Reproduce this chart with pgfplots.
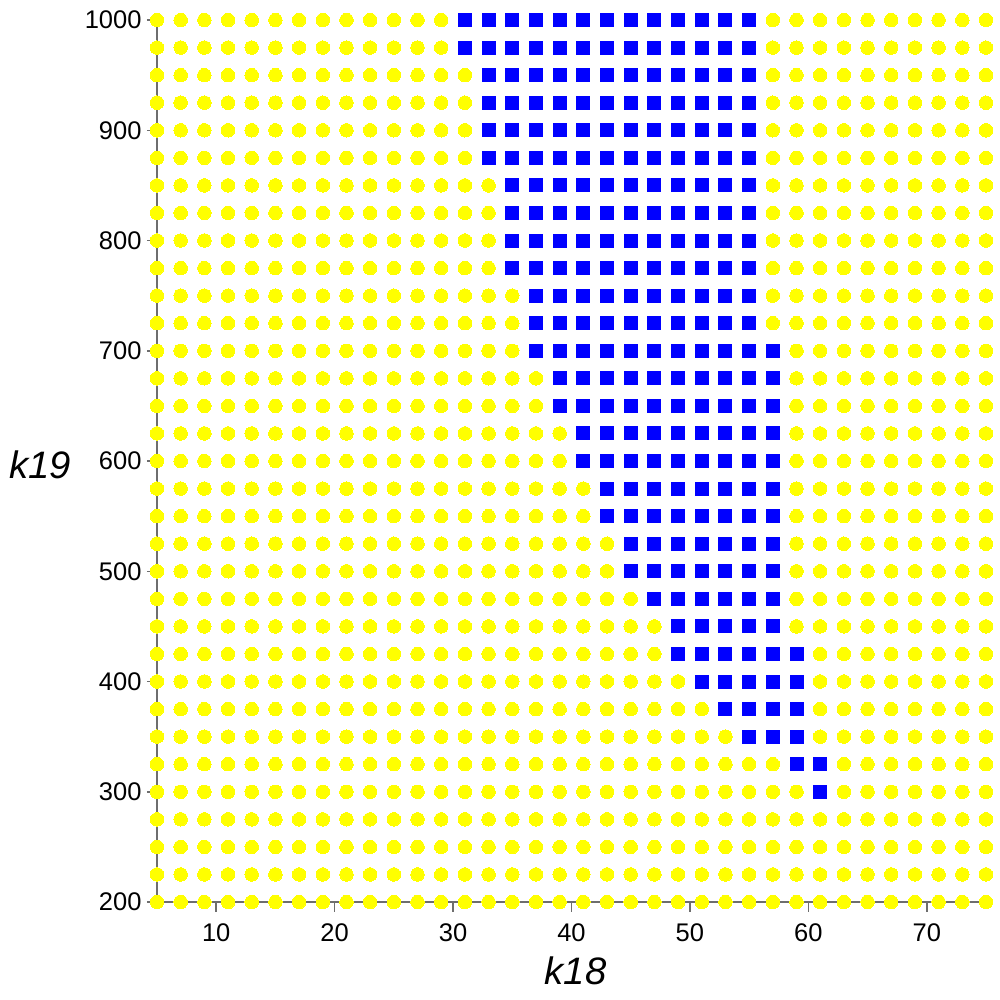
\documentclass[border=0pt]{standalone}
\usepackage{pgfplots}
\pgfplotsset{compat=1.18}
\usepackage{fontspec}
\setmainfont{Liberation Sans}
\definecolor{axgray}{RGB}{110,110,110}
\definecolor{ptyellow}{RGB}{255,255,0}
\definecolor{ptblue}{RGB}{0,0,255}
\begin{document}
\begin{tikzpicture}
\begin{axis}[
  scale only axis,
  width=331.6pt, height=352.8pt,
  xmin=5, xmax=75, ymin=200, ymax=1000,
  axis x line=bottom, axis y line=left,
  axis line style={axgray, line width=0.8pt, -},
  clip=false,
  axis on top,
  xtick={10,20,30,40,50,60,70},
  minor xtick={5,15,25,35,45,55,65,75},
  ytick={200,300,400,500,600,700,800,900,1000},
  minor ytick={250,350,450,550,650,750,850,950},
  tick align=outside,
  major tick length=4pt, minor tick length=2pt,
  every tick/.style={axgray, line width=0.6pt},
  /pgf/number format/assume math mode=true,
  /pgf/number format/set thousands separator={},
  tick label style={font=\fontsize{10.2}{12}\selectfont, black},
  xticklabel style={anchor=base, inner sep=0pt, yshift=-12pt},
  yticklabel style={anchor=east, inner sep=0pt, xshift=-2pt},
  every axis x label/.style={at={(axis description cs:0.505,0)}, anchor=base, inner sep=0pt, yshift=-33.2pt, font=\fontsize{15.3}{18}\selectfont},
  every axis y label/.style={at={(axis description cs:0,0.4807)}, anchor=base west, inner sep=0pt, xshift=-59.2pt, font=\fontsize{15.3}{18}\selectfont},
  xlabel={\textit{k18}}, ylabel={\textit{k19}},
]
% yellow circles (outside region)
\addplot[only marks, color=ptyellow, mark=*, mark size=2.7pt, mark options={fill=ptyellow, draw=ptyellow, line width=0pt}] coordinates {
(5,200)(7,200)(9,200)(11,200)(13,200)(15,200)(17,200)(19,200)(21,200)(23,200)(25,200)(27,200)(29,200)(31,200)(33,200)(35,200)(37,200)(39,200)(41,200)(43,200)(45,200)(47,200)(49,200)(51,200)(53,200)(55,200)(57,200)(59,200)(61,200)(63,200)(65,200)(67,200)(69,200)(71,200)(73,200)(75,200)
(5,225)(7,225)(9,225)(11,225)(13,225)(15,225)(17,225)(19,225)(21,225)(23,225)(25,225)(27,225)(29,225)(31,225)(33,225)(35,225)(37,225)(39,225)(41,225)(43,225)(45,225)(47,225)(49,225)(51,225)(53,225)(55,225)(57,225)(59,225)(61,225)(63,225)(65,225)(67,225)(69,225)(71,225)(73,225)(75,225)
(5,250)(7,250)(9,250)(11,250)(13,250)(15,250)(17,250)(19,250)(21,250)(23,250)(25,250)(27,250)(29,250)(31,250)(33,250)(35,250)(37,250)(39,250)(41,250)(43,250)(45,250)(47,250)(49,250)(51,250)(53,250)(55,250)(57,250)(59,250)(61,250)(63,250)(65,250)(67,250)(69,250)(71,250)(73,250)(75,250)
(5,275)(7,275)(9,275)(11,275)(13,275)(15,275)(17,275)(19,275)(21,275)(23,275)(25,275)(27,275)(29,275)(31,275)(33,275)(35,275)(37,275)(39,275)(41,275)(43,275)(45,275)(47,275)(49,275)(51,275)(53,275)(55,275)(57,275)(59,275)(61,275)(63,275)(65,275)(67,275)(69,275)(71,275)(73,275)(75,275)
(5,300)(7,300)(9,300)(11,300)(13,300)(15,300)(17,300)(19,300)(21,300)(23,300)(25,300)(27,300)(29,300)(31,300)(33,300)(35,300)(37,300)(39,300)(41,300)(43,300)(45,300)(47,300)(49,300)(51,300)(53,300)(55,300)(57,300)(59,300)(63,300)(65,300)(67,300)(69,300)(71,300)(73,300)(75,300)
(5,325)(7,325)(9,325)(11,325)(13,325)(15,325)(17,325)(19,325)(21,325)(23,325)(25,325)(27,325)(29,325)(31,325)(33,325)(35,325)(37,325)(39,325)(41,325)(43,325)(45,325)(47,325)(49,325)(51,325)(53,325)(55,325)(57,325)(63,325)(65,325)(67,325)(69,325)(71,325)(73,325)(75,325)
(5,350)(7,350)(9,350)(11,350)(13,350)(15,350)(17,350)(19,350)(21,350)(23,350)(25,350)(27,350)(29,350)(31,350)(33,350)(35,350)(37,350)(39,350)(41,350)(43,350)(45,350)(47,350)(49,350)(51,350)(53,350)(61,350)(63,350)(65,350)(67,350)(69,350)(71,350)(73,350)(75,350)
(5,375)(7,375)(9,375)(11,375)(13,375)(15,375)(17,375)(19,375)(21,375)(23,375)(25,375)(27,375)(29,375)(31,375)(33,375)(35,375)(37,375)(39,375)(41,375)(43,375)(45,375)(47,375)(49,375)(51,375)(61,375)(63,375)(65,375)(67,375)(69,375)(71,375)(73,375)(75,375)
(5,400)(7,400)(9,400)(11,400)(13,400)(15,400)(17,400)(19,400)(21,400)(23,400)(25,400)(27,400)(29,400)(31,400)(33,400)(35,400)(37,400)(39,400)(41,400)(43,400)(45,400)(47,400)(49,400)(61,400)(63,400)(65,400)(67,400)(69,400)(71,400)(73,400)(75,400)
(5,425)(7,425)(9,425)(11,425)(13,425)(15,425)(17,425)(19,425)(21,425)(23,425)(25,425)(27,425)(29,425)(31,425)(33,425)(35,425)(37,425)(39,425)(41,425)(43,425)(45,425)(47,425)(61,425)(63,425)(65,425)(67,425)(69,425)(71,425)(73,425)(75,425)
(5,450)(7,450)(9,450)(11,450)(13,450)(15,450)(17,450)(19,450)(21,450)(23,450)(25,450)(27,450)(29,450)(31,450)(33,450)(35,450)(37,450)(39,450)(41,450)(43,450)(45,450)(47,450)(59,450)(61,450)(63,450)(65,450)(67,450)(69,450)(71,450)(73,450)(75,450)
(5,475)(7,475)(9,475)(11,475)(13,475)(15,475)(17,475)(19,475)(21,475)(23,475)(25,475)(27,475)(29,475)(31,475)(33,475)(35,475)(37,475)(39,475)(41,475)(43,475)(45,475)(59,475)(61,475)(63,475)(65,475)(67,475)(69,475)(71,475)(73,475)(75,475)
(5,500)(7,500)(9,500)(11,500)(13,500)(15,500)(17,500)(19,500)(21,500)(23,500)(25,500)(27,500)(29,500)(31,500)(33,500)(35,500)(37,500)(39,500)(41,500)(43,500)(59,500)(61,500)(63,500)(65,500)(67,500)(69,500)(71,500)(73,500)(75,500)
(5,525)(7,525)(9,525)(11,525)(13,525)(15,525)(17,525)(19,525)(21,525)(23,525)(25,525)(27,525)(29,525)(31,525)(33,525)(35,525)(37,525)(39,525)(41,525)(43,525)(59,525)(61,525)(63,525)(65,525)(67,525)(69,525)(71,525)(73,525)(75,525)
(5,550)(7,550)(9,550)(11,550)(13,550)(15,550)(17,550)(19,550)(21,550)(23,550)(25,550)(27,550)(29,550)(31,550)(33,550)(35,550)(37,550)(39,550)(41,550)(59,550)(61,550)(63,550)(65,550)(67,550)(69,550)(71,550)(73,550)(75,550)
(5,575)(7,575)(9,575)(11,575)(13,575)(15,575)(17,575)(19,575)(21,575)(23,575)(25,575)(27,575)(29,575)(31,575)(33,575)(35,575)(37,575)(39,575)(41,575)(59,575)(61,575)(63,575)(65,575)(67,575)(69,575)(71,575)(73,575)(75,575)
(5,600)(7,600)(9,600)(11,600)(13,600)(15,600)(17,600)(19,600)(21,600)(23,600)(25,600)(27,600)(29,600)(31,600)(33,600)(35,600)(37,600)(39,600)(59,600)(61,600)(63,600)(65,600)(67,600)(69,600)(71,600)(73,600)(75,600)
(5,625)(7,625)(9,625)(11,625)(13,625)(15,625)(17,625)(19,625)(21,625)(23,625)(25,625)(27,625)(29,625)(31,625)(33,625)(35,625)(37,625)(39,625)(59,625)(61,625)(63,625)(65,625)(67,625)(69,625)(71,625)(73,625)(75,625)
(5,650)(7,650)(9,650)(11,650)(13,650)(15,650)(17,650)(19,650)(21,650)(23,650)(25,650)(27,650)(29,650)(31,650)(33,650)(35,650)(37,650)(59,650)(61,650)(63,650)(65,650)(67,650)(69,650)(71,650)(73,650)(75,650)
(5,675)(7,675)(9,675)(11,675)(13,675)(15,675)(17,675)(19,675)(21,675)(23,675)(25,675)(27,675)(29,675)(31,675)(33,675)(35,675)(37,675)(59,675)(61,675)(63,675)(65,675)(67,675)(69,675)(71,675)(73,675)(75,675)
(5,700)(7,700)(9,700)(11,700)(13,700)(15,700)(17,700)(19,700)(21,700)(23,700)(25,700)(27,700)(29,700)(31,700)(33,700)(35,700)(59,700)(61,700)(63,700)(65,700)(67,700)(69,700)(71,700)(73,700)(75,700)
(5,725)(7,725)(9,725)(11,725)(13,725)(15,725)(17,725)(19,725)(21,725)(23,725)(25,725)(27,725)(29,725)(31,725)(33,725)(35,725)(57,725)(59,725)(61,725)(63,725)(65,725)(67,725)(69,725)(71,725)(73,725)(75,725)
(5,750)(7,750)(9,750)(11,750)(13,750)(15,750)(17,750)(19,750)(21,750)(23,750)(25,750)(27,750)(29,750)(31,750)(33,750)(35,750)(57,750)(59,750)(61,750)(63,750)(65,750)(67,750)(69,750)(71,750)(73,750)(75,750)
(5,775)(7,775)(9,775)(11,775)(13,775)(15,775)(17,775)(19,775)(21,775)(23,775)(25,775)(27,775)(29,775)(31,775)(33,775)(57,775)(59,775)(61,775)(63,775)(65,775)(67,775)(69,775)(71,775)(73,775)(75,775)
(5,800)(7,800)(9,800)(11,800)(13,800)(15,800)(17,800)(19,800)(21,800)(23,800)(25,800)(27,800)(29,800)(31,800)(33,800)(57,800)(59,800)(61,800)(63,800)(65,800)(67,800)(69,800)(71,800)(73,800)(75,800)
(5,825)(7,825)(9,825)(11,825)(13,825)(15,825)(17,825)(19,825)(21,825)(23,825)(25,825)(27,825)(29,825)(31,825)(33,825)(57,825)(59,825)(61,825)(63,825)(65,825)(67,825)(69,825)(71,825)(73,825)(75,825)
(5,850)(7,850)(9,850)(11,850)(13,850)(15,850)(17,850)(19,850)(21,850)(23,850)(25,850)(27,850)(29,850)(31,850)(33,850)(57,850)(59,850)(61,850)(63,850)(65,850)(67,850)(69,850)(71,850)(73,850)(75,850)
(5,875)(7,875)(9,875)(11,875)(13,875)(15,875)(17,875)(19,875)(21,875)(23,875)(25,875)(27,875)(29,875)(31,875)(57,875)(59,875)(61,875)(63,875)(65,875)(67,875)(69,875)(71,875)(73,875)(75,875)
(5,900)(7,900)(9,900)(11,900)(13,900)(15,900)(17,900)(19,900)(21,900)(23,900)(25,900)(27,900)(29,900)(31,900)(57,900)(59,900)(61,900)(63,900)(65,900)(67,900)(69,900)(71,900)(73,900)(75,900)
(5,925)(7,925)(9,925)(11,925)(13,925)(15,925)(17,925)(19,925)(21,925)(23,925)(25,925)(27,925)(29,925)(31,925)(57,925)(59,925)(61,925)(63,925)(65,925)(67,925)(69,925)(71,925)(73,925)(75,925)
(5,950)(7,950)(9,950)(11,950)(13,950)(15,950)(17,950)(19,950)(21,950)(23,950)(25,950)(27,950)(29,950)(31,950)(57,950)(59,950)(61,950)(63,950)(65,950)(67,950)(69,950)(71,950)(73,950)(75,950)
(5,975)(7,975)(9,975)(11,975)(13,975)(15,975)(17,975)(19,975)(21,975)(23,975)(25,975)(27,975)(29,975)(57,975)(59,975)(61,975)(63,975)(65,975)(67,975)(69,975)(71,975)(73,975)(75,975)
(5,1000)(7,1000)(9,1000)(11,1000)(13,1000)(15,1000)(17,1000)(19,1000)(21,1000)(23,1000)(25,1000)(27,1000)(29,1000)(57,1000)(59,1000)(61,1000)(63,1000)(65,1000)(67,1000)(69,1000)(71,1000)(73,1000)(75,1000)
};
% blue squares (region)
\addplot[only marks, color=ptblue, mark=square*, mark size=2.6pt, mark options={fill=ptblue, draw=ptblue, line width=0pt}] coordinates {
(61,300)
(59,325)(61,325)
(55,350)(57,350)(59,350)
(53,375)(55,375)(57,375)(59,375)
(51,400)(53,400)(55,400)(57,400)(59,400)
(49,425)(51,425)(53,425)(55,425)(57,425)(59,425)
(49,450)(51,450)(53,450)(55,450)(57,450)
(47,475)(49,475)(51,475)(53,475)(55,475)(57,475)
(45,500)(47,500)(49,500)(51,500)(53,500)(55,500)(57,500)
(45,525)(47,525)(49,525)(51,525)(53,525)(55,525)(57,525)
(43,550)(45,550)(47,550)(49,550)(51,550)(53,550)(55,550)(57,550)
(43,575)(45,575)(47,575)(49,575)(51,575)(53,575)(55,575)(57,575)
(41,600)(43,600)(45,600)(47,600)(49,600)(51,600)(53,600)(55,600)(57,600)
(41,625)(43,625)(45,625)(47,625)(49,625)(51,625)(53,625)(55,625)(57,625)
(39,650)(41,650)(43,650)(45,650)(47,650)(49,650)(51,650)(53,650)(55,650)(57,650)
(39,675)(41,675)(43,675)(45,675)(47,675)(49,675)(51,675)(53,675)(55,675)(57,675)
(37,700)(39,700)(41,700)(43,700)(45,700)(47,700)(49,700)(51,700)(53,700)(55,700)(57,700)
(37,725)(39,725)(41,725)(43,725)(45,725)(47,725)(49,725)(51,725)(53,725)(55,725)
(37,750)(39,750)(41,750)(43,750)(45,750)(47,750)(49,750)(51,750)(53,750)(55,750)
(35,775)(37,775)(39,775)(41,775)(43,775)(45,775)(47,775)(49,775)(51,775)(53,775)(55,775)
(35,800)(37,800)(39,800)(41,800)(43,800)(45,800)(47,800)(49,800)(51,800)(53,800)(55,800)
(35,825)(37,825)(39,825)(41,825)(43,825)(45,825)(47,825)(49,825)(51,825)(53,825)(55,825)
(35,850)(37,850)(39,850)(41,850)(43,850)(45,850)(47,850)(49,850)(51,850)(53,850)(55,850)
(33,875)(35,875)(37,875)(39,875)(41,875)(43,875)(45,875)(47,875)(49,875)(51,875)(53,875)(55,875)
(33,900)(35,900)(37,900)(39,900)(41,900)(43,900)(45,900)(47,900)(49,900)(51,900)(53,900)(55,900)
(33,925)(35,925)(37,925)(39,925)(41,925)(43,925)(45,925)(47,925)(49,925)(51,925)(53,925)(55,925)
(33,950)(35,950)(37,950)(39,950)(41,950)(43,950)(45,950)(47,950)(49,950)(51,950)(53,950)(55,950)
(31,975)(33,975)(35,975)(37,975)(39,975)(41,975)(43,975)(45,975)(47,975)(49,975)(51,975)(53,975)(55,975)
(31,1000)(33,1000)(35,1000)(37,1000)(39,1000)(41,1000)(43,1000)(45,1000)(47,1000)(49,1000)(51,1000)(53,1000)(55,1000)
};
\end{axis}
\pgfresetboundingbox
\path (-62.8pt,-39.2pt) rectangle (337.2pt,360.8pt);
\end{tikzpicture}
\end{document}
